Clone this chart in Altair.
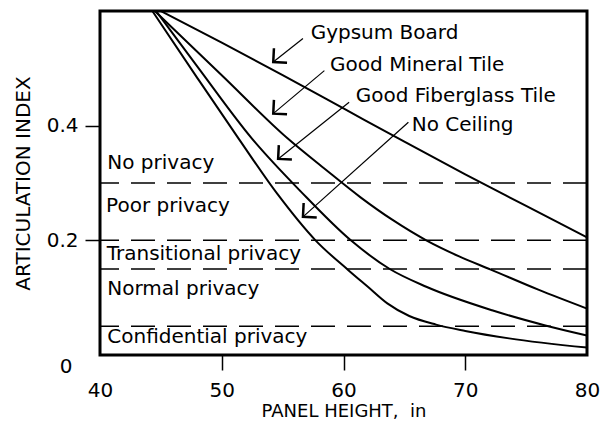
import altair as alt
import pandas as pd

FONT = "DejaVu Sans"
FS = 20

# ---- curve data ----
series_names = ["Gypsum Board", "Good Mineral Tile", "Good Fiberglass Tile", "No Ceiling"]
gypsum_x = [45, 50, 55, 60, 65, 70, 75, 80]
gypsum_y = [0.6, 0.545, 0.488, 0.43, 0.372, 0.315, 0.26, 0.205]
mineral_x = [44.5, 50, 55.4, 58.5, 61.4, 64, 66.8, 69.5, 72.1, 76, 80]
mineral_y = [0.6, 0.488, 0.378, 0.324, 0.275, 0.236, 0.2, 0.172, 0.149, 0.114, 0.081]
fiber_x = [44.6, 48, 52.5, 56.5, 60.6, 63.8, 66.8, 72.2, 76.5, 80]
fiber_y = [0.6, 0.503, 0.377, 0.285, 0.2, 0.15, 0.119, 0.078, 0.052, 0.034]
noceil_x = [44.3, 48, 51.4, 54.6, 57.7, 60.4, 62, 63.6, 65.4, 67.6, 70, 73.6, 80]
noceil_y = [0.6, 0.483, 0.377, 0.28, 0.2, 0.148, 0.119, 0.09, 0.068, 0.053, 0.042, 0.029, 0.013]

# ---- privacy levels ----
privacy_levels = [0.3, 0.2, 0.15, 0.05]
privacy_labels = ["No privacy", "Poor privacy", "Transitional privacy",
                  "Normal privacy", "Confidential privacy"]
privacy_label_x = [40.6, 40.5, 40.55, 40.6, 40.6]
privacy_label_y = [0.325, 0.25, 0.166, 0.104, 0.0216]

# ---- curve labels, leader lines and arrow tips ----
label_x = [57.3, 58.9, 61.0, 65.6]
label_y = [0.552, 0.496, 0.441, 0.391]
leader_x = [56.67, 58.43, 60.46, 65.33]
leader_y = [0.552, 0.496, 0.441, 0.406]
tip_x = [54.23, 54.23, 54.63, 56.67]
tip_y = [0.511, 0.421, 0.342, 0.241]

# ---- axis ticks ----
x_ticks = [40, 50, 60, 70, 80]
y_ticks = [0, 0.2, 0.4]

rows = []
for name, xs, ys in zip(series_names,
                        [gypsum_x, mineral_x, fiber_x, noceil_x],
                        [gypsum_y, mineral_y, fiber_y, noceil_y]):
    for a, b in zip(xs, ys):
        rows.append({"series": name, "x": a, "y": b})
curves = pd.DataFrame(rows)

levels_df = pd.DataFrame({"y": privacy_levels})
plabels_df = pd.DataFrame({"x": privacy_label_x, "y": privacy_label_y, "text": privacy_labels})
clabels_df = pd.DataFrame({"x": label_x, "y": label_y, "text": series_names})
leaders_df = pd.DataFrame({"x": leader_x, "y": leader_y, "x2": tip_x, "y2": tip_y})
tips_df = pd.DataFrame({"x": tip_x, "y": tip_y})

xscale = alt.Scale(domain=[40, 80], nice=False, zero=False)
yscale = alt.Scale(domain=[0, 0.6], nice=False, zero=True)

xaxis = alt.Axis(
    values=x_ticks, format="d", domain=False, grid=False,
    tickSize=15, tickWidth=1.5, tickColor="black",
    tickOpacity={"condition": {"test": "datum.value == 40 || datum.value == 80", "value": 0}, "value": 1},
    labelPadding=10, labelFont=FONT, labelFontSize=FS, labelColor="black", labelFlush=False,
    title="PANEL HEIGHT,\u00a0\u00a0in", titleFont=FONT, titleFontSize=18,
    titleFontWeight="normal", titleColor="black", titlePadding=2,
)
yaxis = alt.Axis(
    values=y_ticks, labelExpr="datum.value == 0 ? '0' : format(datum.value, '.1f')",
    domain=False, grid=False,
    tickSize=15, tickWidth=1.5, tickColor="black",
    tickOpacity={"condition": {"test": "datum.value == 0", "value": 0}, "value": 1},
    labelOffset={"condition": {"test": "datum.value == 0", "value": 11}, "value": 0},
    labelPadding={"condition": {"test": "datum.value == 0", "value": 13}, "value": 7},
    labelFont=FONT, labelFontSize=FS, labelColor="black", labelFlush=False,
    title="ARTICULATION INDEX", titleFont=FONT, titleFontSize=FS,
    titleFontWeight="normal", titleColor="black", titlePadding=13,
)

xenc = alt.X("x:Q", scale=xscale, axis=xaxis)
yenc = alt.Y("y:Q", scale=yscale, axis=yaxis)

lines = alt.Chart(curves).mark_line(color="black", strokeWidth=2, interpolate="monotone").encode(
    x=xenc, y=yenc, detail="series:N"
)

dashes = alt.Chart(levels_df).mark_rule(color="black", strokeWidth=1.5, strokeDash=[24, 12]).encode(
    y=yenc
)

ptext = alt.Chart(plabels_df).mark_text(
    align="left", baseline="alphabetic", font=FONT, fontSize=FS, color="black"
).encode(x=xenc, y=yenc, text="text:N")

ctext = alt.Chart(clabels_df).mark_text(
    align="left", baseline="alphabetic", font=FONT, fontSize=FS, color="black"
).encode(x=xenc, y=yenc, text="text:N")

leaders = alt.Chart(leaders_df).mark_rule(color="black", strokeWidth=1.2).encode(
    x=xenc, y=yenc, x2="x2:Q", y2="y2:Q"
)

tips = alt.Chart(tips_df).mark_point(
    shape="M0.05,-1L0,0L1,0.05", size=760, filled=False, strokeWidth=2.5,
    color="black", opacity=1
).encode(x=xenc, y=yenc)

chart = alt.layer(dashes, lines, leaders, tips, ptext, ctext).properties(
    width=487, height=344, autosize="none",
    padding={"left": 92, "top": 3, "right": 13, "bottom": 65},
    background="white",
).configure_view(stroke="black", strokeWidth=3)

chart.save("out.html", embed_options={"renderer": "svg", "actions": False})
